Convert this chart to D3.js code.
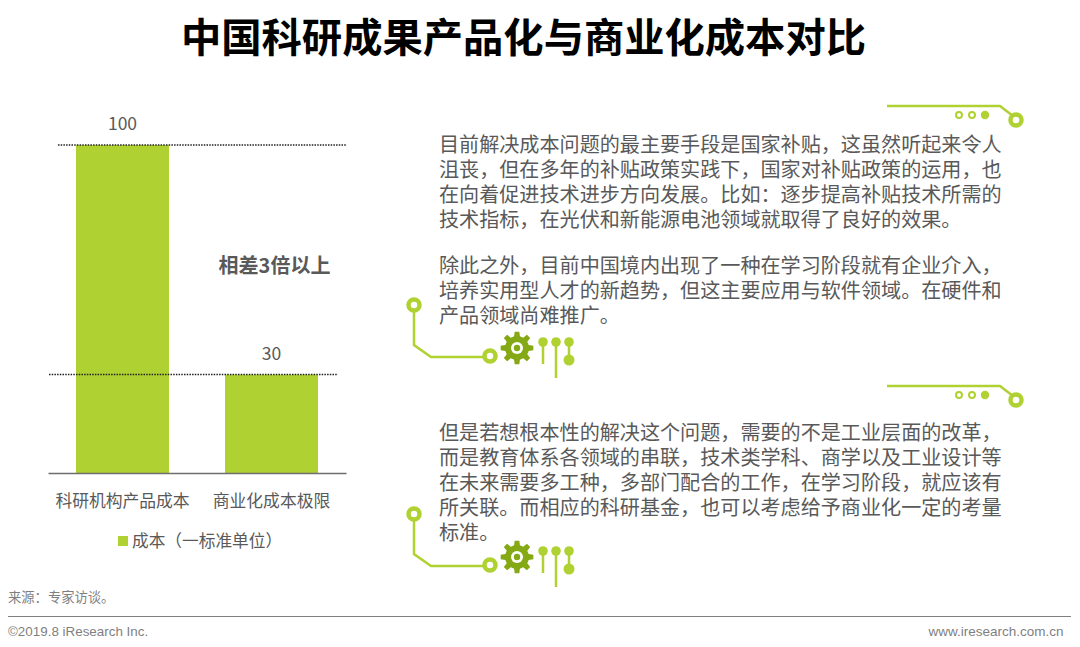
<!DOCTYPE html>
<html>
<head>
<meta charset="utf-8">
<script src="https://cdn.jsdelivr.net/npm/d3@7"></script>
<style>
  html, body { margin: 0; padding: 0; background: #fff; }
  svg { display: block; }
  text { font-family: "Noto Sans CJK SC", "Noto Sans", sans-serif; fill: #595959; }
</style>
</head>
<body>
<svg width="1080" height="647"></svg>
<script>
const categories = ['科研机构产品成本', '商业化成本极限'];
const costValues = [100, 30];
const seriesName = '成本（一标准单位）';
const gapLabel = '相差3倍以上';
const titleText = '中国科研成果产品化与商业化成本对比';
const sourceText = '来源：专家访谈。';
const copyrightText = '©2019.8 iResearch Inc.';
const siteText = 'www.iresearch.com.cn';

const paragraphOne = [
  '目前解决成本问题的最主要手段是国家补贴，这虽然听起来令人',
  '沮丧，但在多年的补贴政策实践下，国家对补贴政策的运用，也',
  '在向着促进技术进步方向发展。比如：逐步提高补贴技术所需的',
  '技术指标，在光伏和新能源电池领域就取得了良好的效果。'
];
const paragraphTwo = [
  '除此之外，目前中国境内出现了一种在学习阶段就有企业介入，',
  '培养实用型人才的新趋势，但这主要应用与软件领域。在硬件和',
  '产品领域尚难推广。'
];
const paragraphThree = [
  '但是若想根本性的解决这个问题，需要的不是工业层面的改革，',
  '而是教育体系各领域的串联，技术类学科、商学以及工业设计等',
  '在未来需要多工种，多部门配合的工作，在学习阶段，就应该有',
  '所关联。而相应的科研基金，也可以考虑给予商业化一定的考量',
  '标准。'
];

const svg = d3.select('svg');
const green = '#b0d132';
const textGray = '#595959';

// title
svg.append('text')
  .attr('x', 523.5).attr('y', 52)
  .attr('text-anchor', 'middle')
  .attr('font-size', 40.3)
  .attr('font-weight', 700)
  .style('fill', '#000')
  .text(titleText);

// chart
const xScale = d3.scaleBand()
  .domain(categories)
  .range([48, 346])
  .paddingInner(0.376)
  .paddingOuter(0.188);

const yScale = d3.scaleLinear()
  .domain([0, 100])
  .range([473, 145]);

svg.selectAll('.bar').data(costValues)
  .enter().append('rect')
    .attr('class', 'bar')
    .attr('x', (d, i) => xScale(categories[i]))
    .attr('y', d => yScale(d))
    .attr('width', xScale.bandwidth())
    .attr('height', d => yScale(0) - yScale(d))
    .attr('fill', green);

// dotted reference lines, second one starts a little further left
const dotStart = [58, 49];
const dotEnd = [347, 338];
svg.selectAll('.dots').data(costValues)
  .enter().append('line')
    .attr('class', 'dots')
    .attr('x1', (d, i) => dotStart[i])
    .attr('x2', (d, i) => dotEnd[i])
    .attr('y1', d => yScale(d))
    .attr('y2', d => yScale(d))
    .attr('stroke', '#222')
    .attr('stroke-width', 1.5)
    .attr('stroke-dasharray', '1.5 1.2');

svg.selectAll('.value').data(costValues)
  .enter().append('text')
    .attr('class', 'value')
    .attr('x', (d, i) => xScale(categories[i]) + xScale.bandwidth() / 2)
    .attr('y', d => yScale(d) - 15)
    .attr('text-anchor', 'middle')
    .attr('font-size', 17.5)
    .text(d => d);

const xAxis = d3.axisBottom(xScale).tickSize(0).tickPadding(22);
const xAxisG = svg.append('g')
  .attr('transform', `translate(0,${yScale(0)})`)
  .call(xAxis);
xAxisG.select('.domain').attr('stroke', '#6e6e6e').attr('stroke-width', 1.6);
xAxisG.selectAll('text')
  .attr('font-size', 16.8)
  .style('font-family', '"Noto Sans CJK SC", sans-serif')
  .style('fill', textGray);

svg.append('text')
  .attr('x', 274.5).attr('y', 272.5)
  .attr('text-anchor', 'middle')
  .attr('font-size', 20)
  .attr('font-weight', 700)
  .text(gapLabel);

// legend
svg.append('rect')
  .attr('x', 118).attr('y', 536)
  .attr('width', 10).attr('height', 10)
  .attr('fill', green);
svg.append('text')
  .attr('x', 132).attr('y', 547)
  .attr('font-size', 16.7)
  .text(seriesName);

// right side paragraphs
const drawLines = (lines, top) => {
  svg.append('text')
    .attr('font-size', 20.1)
    .selectAll('tspan').data(lines)
    .enter().append('tspan')
      .attr('x', 439)
      .attr('y', (d, i) => top + i * 24.9)
      .text(d => d);
};
drawLines(paragraphOne, 152);
drawLines(paragraphTwo, 273);
drawLines(paragraphThree, 440);

// circuit decorations
const drawTopCircuit = (dx, dy) => {
  const g = svg.append('g').attr('transform', `translate(${dx},${dy})`);
  g.append('path')
    .attr('d', 'M887 106H1000L1013 116')
    .attr('fill', 'none').attr('stroke', green).attr('stroke-width', 2.5);
  g.append('circle').attr('cx', 1016).attr('cy', 120).attr('r', 5.5)
    .attr('fill', '#fff').attr('stroke', green).attr('stroke-width', 4.5);
  [959, 972].forEach(cx => {
    g.append('circle').attr('cx', cx).attr('cy', 115).attr('r', 3)
      .attr('fill', '#fff').attr('stroke', green).attr('stroke-width', 2);
  });
  g.append('circle').attr('cx', 985).attr('cy', 115).attr('r', 4.2).attr('fill', green);
};
drawTopCircuit(0, 0);
drawTopCircuit(0, 280);

const gearPath = () => {
  const outer = 16.5, inner = 12, teeth = 8;
  const pts = [];
  for (let i = 0; i < teeth; i++) {
    const a = i * 2 * Math.PI / teeth;
    const w = Math.PI / teeth;
    pts.push([inner, a - w * 0.62], [outer, a - w * 0.36], [outer, a + w * 0.36], [inner, a + w * 0.62]);
  }
  return d3.line()(pts.map(([r, a]) => [r * Math.cos(a), r * Math.sin(a)])) + 'Z';
};

const drawBottomCircuit = (dx, dy) => {
  const g = svg.append('g').attr('transform', `translate(${dx},${dy})`);
  g.append('path')
    .attr('d', 'M414 310V345L431 357H485')
    .attr('fill', 'none').attr('stroke', green).attr('stroke-width', 2.5);
  g.append('circle').attr('cx', 414).attr('cy', 305).attr('r', 5.5)
    .attr('fill', '#fff').attr('stroke', green).attr('stroke-width', 4.5);
  g.append('circle').attr('cx', 490).attr('cy', 356).attr('r', 5.5)
    .attr('fill', '#fff').attr('stroke', green).attr('stroke-width', 4.5);

  const gear = g.append('g').attr('transform', 'translate(517,348)');
  gear.append('path').attr('d', gearPath()).attr('fill', '#85a815');
  gear.append('circle').attr('r', 6).attr('fill', '#fff');
  gear.append('circle').attr('r', 3.2).attr('fill', '#85a815');

  const stems = [[543, 342, 364], [556, 342, 378], [569, 342, 360]];
  stems.forEach(([x, y1, y2]) => {
    g.append('line').attr('x1', x).attr('x2', x).attr('y1', y1).attr('y2', y2)
      .attr('stroke', green).attr('stroke-width', 2.5);
    g.append('circle').attr('cx', x).attr('cy', y1).attr('r', 4.8).attr('fill', green);
  });
  g.append('circle').attr('cx', 569).attr('cy', 360).attr('r', 5.5).attr('fill', green);
};
drawBottomCircuit(0, 0);
drawBottomCircuit(0, 209);

// footer
svg.append('text')
  .attr('x', 8).attr('y', 602)
  .attr('font-size', 13.3)
  .style('fill', '#7f7f7f')
  .text(sourceText);
svg.append('line')
  .attr('x1', 8).attr('x2', 1071)
  .attr('y1', 616.5).attr('y2', 616.5)
  .attr('stroke', '#7f7f7f').attr('stroke-width', 1.2);
svg.append('text')
  .attr('x', 8).attr('y', 636)
  .attr('font-size', 13.4)
  .style('font-family', '"Liberation Sans", sans-serif')
  .style('fill', '#7f7f7f')
  .text(copyrightText);
svg.append('text')
  .attr('x', 1063.5).attr('y', 636)
  .attr('text-anchor', 'end')
  .attr('font-size', 13.5)
  .style('font-family', '"Liberation Sans", sans-serif')
  .style('fill', '#7f7f7f')
  .text(siteText);
</script>
</body>
</html>
